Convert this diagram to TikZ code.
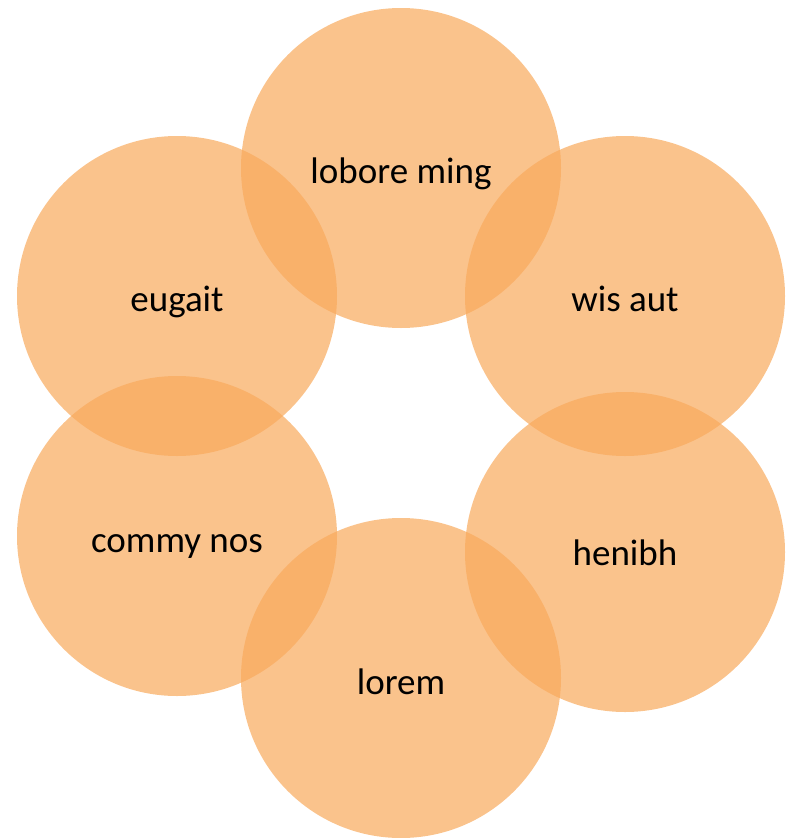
\documentclass[tikz,border=0pt]{standalone}
\usepackage{fontspec}
\setmainfont{Carlito}
\definecolor{petal}{RGB}{248,169,91}
\begin{document}
\begin{tikzpicture}[x=1pt,y=-1pt,
  petalc/.style={fill=petal,fill opacity=0.7,draw=none},
  lbl/.style={anchor=base,inner sep=0pt,font=\fontsize{37}{44}\selectfont,text=black}]
\useasboundingbox (0,0) rectangle (790,838);
\coordinate (cT) at (401,168);
\coordinate (cTR) at (625,296);
\coordinate (cBR) at (625,552);
\coordinate (cB) at (401,678);
\coordinate (cBL) at (177,536);
\coordinate (cTL) at (177,296);
\foreach \c in {cT,cTR,cBR,cB,cBL,cTL}{
  \fill[petalc] (\c) circle[radius=160];
}
\node[lbl] (tT) at (401,183) {lobore ming};
\node[lbl] (tTR) at (625,311) {wis aut};
\node[lbl] (tBR) at (625,565) {henibh};
\node[lbl] (tB) at (401,694) {lorem};
\node[lbl] (tBL) at (177,552) {commy nos};
\node[lbl] (tTL) at (177,311) {eugait};
\end{tikzpicture}
\end{document}
